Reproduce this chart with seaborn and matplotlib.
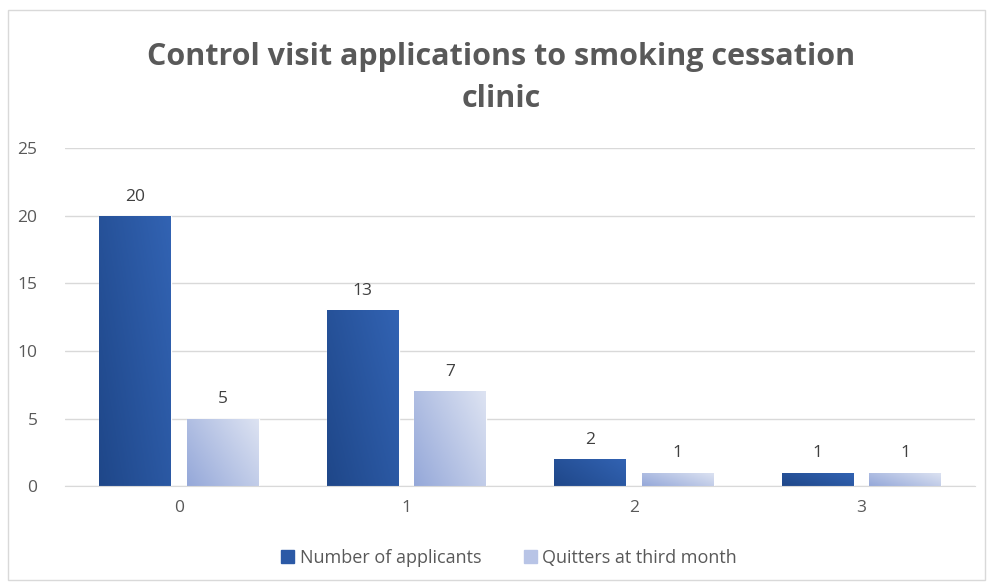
import numpy as np
import pandas as pd
import matplotlib
matplotlib.use("Agg")
import matplotlib.pyplot as plt
import seaborn as sns
from matplotlib.colors import LinearSegmentedColormap

# data
visits = ["0", "1", "2", "3"]
applicants = [20, 13, 2, 1]
quitters = [5, 7, 1, 1]
series = ["Number of applicants", "Quitters at third month"]

df = pd.DataFrame({
    "visits": visits * 2,
    "count": applicants + quitters,
    "series": [series[0]] * 4 + [series[1]] * 4,
})

sns.set_style("white")
plt.rcParams["font.family"] = ["Open Sans", "DejaVu Sans"]

fig = plt.figure(figsize=(9.89, 5.85), dpi=100)
ax = fig.add_axes([0.066, 0.169, 0.920, 0.578])

palette = {series[0]: "#2b59a6", series[1]: "#b8c4e6"}
sns.barplot(data=df, x="visits", y="count", hue="series", palette=palette,
            width=0.77, gap=0.18, ax=ax, legend=False)

# gradient fill clipped to each bar
dark = LinearSegmentedColormap.from_list("d", ["#1f4789", "#3263b3"])
light = LinearSegmentedColormap.from_list("l", ["#95a8d9", "#dde3f2"])
grad = np.linspace(0, 1, 64).reshape(1, -1) + np.linspace(0, 0.6, 64).reshape(-1, 1)
for i, bar in enumerate(ax.patches):
    cmap = dark if i < 4 else light
    x0, y0 = bar.get_x(), bar.get_y()
    w, h = bar.get_width(), bar.get_height()
    im = ax.imshow(grad, cmap=cmap, extent=[x0, x0 + w, y0, y0 + h],
                   origin="lower", aspect="auto", zorder=bar.get_zorder() + 0.1)
    im.set_clip_path(bar)

for cont in ax.containers:
    ax.bar_label(cont, padding=8, fontsize=12.5, color="#404040")

ax.set_xlim(-0.5, 3.5)
ax.set_ylim(0, 25)
ax.set_yticks([0, 5, 10, 15, 20, 25])
ax.yaxis.grid(True, color="#d9d9d9", linewidth=1)
ax.set_axisbelow(True)
for s in ["top", "right", "left"]:
    ax.spines[s].set_visible(False)
ax.spines["bottom"].set_color("#d9d9d9")
ax.tick_params(axis="both", length=0, labelsize=12.5, labelcolor="#595959")
ax.tick_params(axis="x", pad=10)
ax.tick_params(axis="y", pad=20)
ax.set_xlabel("")
ax.set_ylabel("")

fig.text(0.507, 0.867, "Control visit applications to smoking cessation\nclinic",
         ha="center", va="center", fontsize=22, fontweight="bold",
         color="#595959", linespacing=1.5)

handles = [plt.Rectangle((0, 0), 1, 1, color="#2b59a6"),
           plt.Rectangle((0, 0), 1, 1, color="#b8c4e6")]
fig.legend(handles, series, loc="center", bbox_to_anchor=(0.515, 0.047),
           ncol=2, frameon=False, fontsize=13, labelcolor="#595959",
           handlelength=0.7, handleheight=0.7, handletextpad=0.3, columnspacing=2.4)

fig.patches.append(plt.Rectangle((0.008, 0.008), 0.988, 0.975, transform=fig.transFigure,
                                 fill=False, edgecolor="#d9d9d9", linewidth=1))

fig.savefig("out.png", dpi=100)
